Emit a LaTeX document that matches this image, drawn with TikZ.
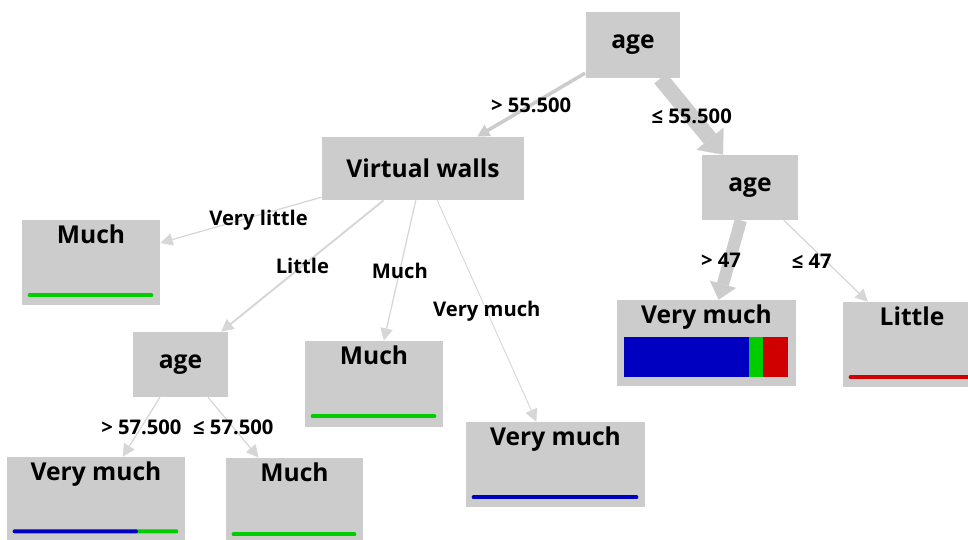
\documentclass[tikz,border=0pt]{standalone}
\usepackage{fontspec}
\setmainfont{Open Sans}
\usetikzlibrary{arrows.meta,calc}

\definecolor{boxgray}{HTML}{CCCCCC}
\definecolor{edgegray}{HTML}{D6D6D6}
\definecolor{barblue}{HTML}{0000C0}
\definecolor{bargreen}{HTML}{00CC00}
\definecolor{barred}{HTML}{D00000}

\begin{document}
\begin{tikzpicture}
    [x=0.02cm,y=-0.02cm,
     split/.style={rectangle,fill=boxgray,font=\fontsize{14}{16}\selectfont\bfseries},
     leaf/.style={rectangle,fill=boxgray,minimum width=2.76cm,minimum height=1.7cm},
     leaftext/.style={anchor=north,inner sep=3pt,font=\fontsize{14}{16}\selectfont\bfseries},
     cond/.style={font=\fontsize{11.5}{13}\selectfont\bfseries},
     br/.style={draw=edgegray,line width=0.7pt,-{Triangle[width=7pt,length=7pt]}},
     fat br/.style={draw=boxgray,-{Triangle[width=#1*2.2pt,length=#1*1.3pt,line width=0.1pt]},line width=#1pt},
     bar/.style={line width=2.3pt,line cap=round}]

    \useasboundingbox (0,0) rectangle (968,540);

    % split nodes
    \node[split,minimum width=1.9cm,minimum height=1.32cm] (age1) at (633,45) {age};
    \node[split,minimum width=4.04cm,minimum height=1.26cm] (walls) at (423,168.5) {Virtual walls};
    \node[split,minimum width=1.92cm,minimum height=1.3cm] (age2) at (750,187.5) {age};
    \node[split,minimum width=1.9cm,minimum height=1.3cm] (age3) at (180.5,364.5) {age};

    % leaves
    \node[leaf] (much1) at (91,262.5) {};
    \node[leaf,minimum height=1.72cm] (much2) at (374,384) {};
    \node[leaf,minimum width=3.56cm] (vmuch1) at (96,499.5) {};
    \node[leaf,minimum width=2.74cm] (much3) at (294.5,500.5) {};
    \node[leaf,minimum width=3.58cm] (vmuch2) at (555.5,464.5) {};
    \node[leaf,minimum width=3.58cm,minimum height=1.72cm] (vmuch3) at (706.5,343) {};
    \node[leaf] (little) at (912,344.5) {};

    \node[leaftext] at (much1.north) {Much};
    \node[leaftext] at (much2.north) {Much};
    \node[leaftext] at (vmuch1.north) {Very much};
    \node[leaftext] at (much3.north) {Much};
    \node[leaftext] at (vmuch2.north) {Very much};
    \node[leaftext] at (vmuch3.north) {Very much};
    \node[leaftext] at (little.north) {Little};

    % class bars
    \draw[bar,bargreen] ($(much1.south west)+(8,-10)$) -- ($(much1.south east)+(-9,-10)$);
    \draw[bar,bargreen] ($(much2.south west)+(8,-11)$) -- ($(much2.south east)+(-9,-11)$);
    \draw[bar,bargreen] ($(much3.south west)+(8,-9)$) -- ($(much3.south east)+(-9,-9)$);
    \draw[bar,barblue] ($(vmuch2.south west)+(8,-10)$) -- ($(vmuch2.south east)+(-9,-10)$);
    \draw[bar,barred] ($(little.south west)+(8,-10)$) -- ($(little.south east)+(-9,-10)$);
    \coordinate (v1a) at ($(vmuch1.south west)+(8,-11)$);
    \coordinate (v1b) at ($(vmuch1.south east)+(-9,-11)$);
    \draw[bar,bargreen] ($(v1a)!0.75!(v1b)$) -- (v1b);
    \draw[bar,barblue] (v1a) -- ($(v1a)!0.75!(v1b)$);
    % stacked bar: blue, green, red
    \coordinate (v3a) at ($(vmuch3.south west)+(7,-9)$);
    \coordinate (v3b) at ($(vmuch3.south east)+(-8,-49)$);
    \coordinate (v3g) at ($(v3a)!0.76!(v3b)$);
    \coordinate (v3r) at ($(v3a)!0.845!(v3b)$);
    \fill[barblue] (v3a) rectangle (v3g |- v3b);
    \fill[bargreen] (v3g |- v3a) rectangle (v3r |- v3b);
    \fill[barred] (v3r |- v3a) rectangle (v3b);

    % branches
    \path
    (age1) edge [br,draw=boxgray,line width=2pt] node[cond] {> 55.500} (walls)
    (age1) edge [fat br=9] node[cond] {≤ 55.500} (age2)
    (walls) edge [br] node[cond,xshift=10pt] {Very little} (much1)
    (walls) edge [br,line width=1.1pt] node[cond] {Little} (age3)
    (walls) edge [br] node[cond] {Much} (much2)
    (walls) edge [br,line width=0.5pt] node[cond] {Very much} (vmuch2)
    (age2) edge [fat br=7] node[cond,xshift=-5pt] {> 47} (vmuch3)
    (age2) edge [br] node[cond,xshift=-8pt] {≤ 47} (little)
    (age3) edge [br] node[cond] {> 57.500} (vmuch1)
    (age3) edge [br] node[cond] {≤ 57.500} (much3)
    ;

\end{tikzpicture}
\end{document}
